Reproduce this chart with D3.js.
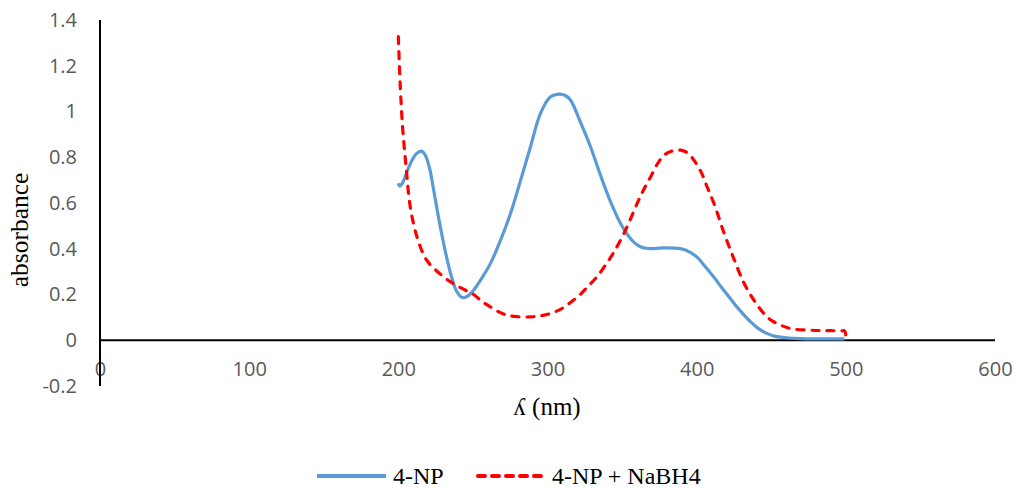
<!DOCTYPE html>
<html>
<head>
<meta charset="utf-8">
<script src="https://cdn.jsdelivr.net/npm/d3@7"></script>
<style>
  html, body { margin: 0; padding: 0; background: #fff; }
  svg { display: block; }
</style>
</head>
<body>
<svg id="chart" width="1015" height="489"></svg>
<script>
// UV-Vis absorbance spectra: wavelength (nm) vs absorbance
const npWavelength = [200, 201, 203, 206, 209, 212, 215.4, 218, 221, 224, 227, 230, 233, 236, 239, 242, 244.5, 247, 250, 255, 261.7, 268.5, 275.2, 282, 288.6, 295.3, 302, 307.6, 312, 315.4, 322, 328.9, 335.6, 342.3, 349, 353, 358, 362, 366, 372, 378, 385, 391.5, 396, 400.4, 406, 411.6, 417, 422.8, 428.4, 436.2, 441, 447.4, 452, 458.6, 469.8, 485, 499];
const npAbsorbance = [0.686, 0.674, 0.69, 0.74, 0.785, 0.815, 0.827, 0.81, 0.75, 0.645, 0.535, 0.435, 0.345, 0.27, 0.215, 0.19, 0.187, 0.195, 0.215, 0.262, 0.335, 0.437, 0.554, 0.70, 0.846, 0.992, 1.064, 1.076, 1.07, 1.05, 0.955, 0.845, 0.72, 0.605, 0.51, 0.467, 0.428, 0.41, 0.402, 0.401, 0.404, 0.403, 0.397, 0.383, 0.362, 0.32, 0.275, 0.228, 0.18, 0.135, 0.08, 0.053, 0.029, 0.018, 0.012, 0.007, 0.006, 0.006];

const nbWavelength = [200, 201.3, 203, 205.4, 208, 212.5, 219, 228, 235, 241.6, 250.5, 256, 261.7, 267, 273, 280, 288.6, 295, 302, 308.7, 315, 322, 327, 333.1, 339, 344.5, 352.3, 360.1, 364.6, 369.1, 373.6, 378, 383, 389.3, 394, 398.2, 403, 407, 411.6, 418.3, 425, 431.7, 438.4, 445, 449, 454, 463, 476.5, 487, 496.6, 499.3, 500];
const nbAbsorbance = [1.327, 1.108, 0.919, 0.744, 0.583, 0.452, 0.35, 0.29, 0.255, 0.23, 0.2, 0.17, 0.146, 0.125, 0.109, 0.103, 0.102, 0.106, 0.117, 0.135, 0.163, 0.2, 0.235, 0.277, 0.33, 0.385, 0.481, 0.598, 0.66, 0.714, 0.77, 0.808, 0.826, 0.831, 0.818, 0.787, 0.735, 0.671, 0.598, 0.47, 0.355, 0.25, 0.175, 0.117, 0.092, 0.073, 0.051, 0.044, 0.042, 0.041, 0.04, 0.0];

const xTicks = [0, 100, 200, 300, 400, 500, 600];
const yTicks = [-0.2, 0, 0.2, 0.4, 0.6, 0.8, 1, 1.2, 1.4];

const seriesNames = ["4-NP", "4-NP + NaBH4"];
const seriesColors = ["#5B9BD5", "#FF0000"];

const svg = d3.select("#chart");

const x = d3.scaleLinear().domain([0, 600]).range([100, 995]);
const y = d3.scaleLinear().domain([-0.2, 1.4]).range([386, 20]);

const tickFont = "'Open Sans', sans-serif";
const serif = "'Liberation Serif', 'Times New Roman', serif";

// Y axis: labels only, with a plain vertical line at x = 0
const yAxis = d3.axisLeft(y).tickValues(yTicks).tickSize(0).tickPadding(0)
  .tickFormat(d => d3.format("~g")(d).replace("−", "-"));
const gy = svg.append("g").attr("transform", `translate(${x(0) - 23},0)`).call(yAxis);
gy.select(".domain").remove();
gy.selectAll("text")
  .attr("font-family", tickFont).attr("font-size", 20).attr("fill", "#595959");

// X axis labels sit below the zero line
const xAxis = d3.axisBottom(x).tickValues(xTicks).tickSize(0).tickPadding(0);
const gx = svg.append("g").attr("transform", `translate(0,${y(0) + 22})`).call(xAxis);
gx.select(".domain").remove();
gx.selectAll("text")
  .attr("font-family", tickFont).attr("font-size", 20).attr("fill", "#595959");

// Axis lines
svg.append("line")
  .attr("x1", x(0)).attr("x2", x(0)).attr("y1", y(1.4)).attr("y2", y(-0.2))
  .attr("stroke", "#000").attr("stroke-width", 2);
svg.append("line")
  .attr("x1", x(0)).attr("x2", x(600)).attr("y1", y(0)).attr("y2", y(0))
  .attr("stroke", "#000").attr("stroke-width", 2.2);

// Spectra
const line = d3.line().x(d => x(d[0])).y(d => y(d[1])).curve(d3.curveCatmullRom.alpha(0.5));

svg.append("path")
  .datum(d3.zip(npWavelength, npAbsorbance))
  .attr("d", line).attr("fill", "none")
  .attr("stroke", seriesColors[0]).attr("stroke-width", 3.2).attr("stroke-linejoin", "round");

svg.append("path")
  .datum(d3.zip(nbWavelength, nbAbsorbance))
  .attr("d", line).attr("fill", "none")
  .attr("stroke", seriesColors[1]).attr("stroke-width", 3.2)
  .attr("stroke-dasharray", "7,8").attr("stroke-linecap", "round");

// Axis titles
svg.append("text")
  .attr("x", 547).attr("y", 415).attr("text-anchor", "middle")
  .attr("font-family", serif).attr("font-size", 25).attr("fill", "#000")
  .text("ʎ (nm)");

svg.append("text")
  .attr("transform", "translate(28,230) rotate(-90)").attr("text-anchor", "middle")
  .attr("font-family", serif).attr("font-size", 25.5).attr("fill", "#000")
  .text("absorbance");

// Legend
const legendItems = [
  { name: seriesNames[0], color: seriesColors[0], x0: 317, tx: 393, dash: null },
  { name: seriesNames[1], color: seriesColors[1], x0: 478, tx: 552, dash: "7,7" }
];
const lg = svg.append("g");
legendItems.forEach(it => {
  lg.append("line")
    .attr("x1", it.x0).attr("x2", it.x0 + 69).attr("y1", 476).attr("y2", 476)
    .attr("stroke", it.color).attr("stroke-width", 4)
    .attr("stroke-dasharray", it.dash).attr("stroke-linecap", it.dash ? "round" : "butt");
  lg.append("text")
    .attr("x", it.tx).attr("y", 484)
    .attr("font-family", serif).attr("font-size", 24).attr("fill", "#000")
    .text(it.name);
});
</script>
</body>
</html>
